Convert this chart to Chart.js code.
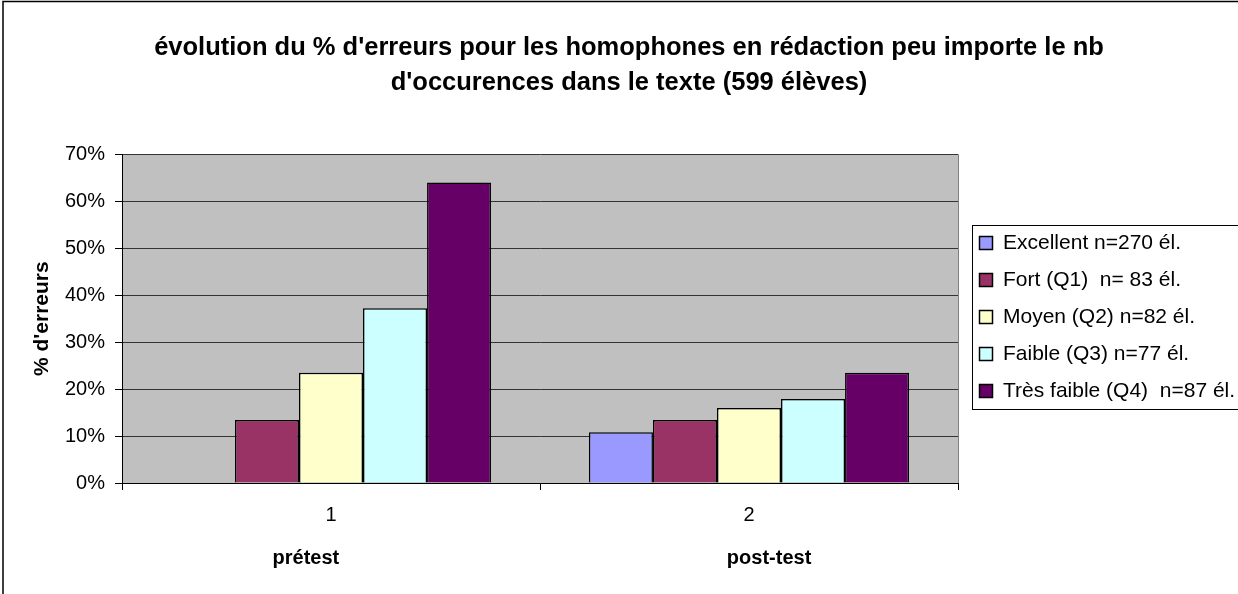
<!DOCTYPE html>
<html>
<head>
<meta charset="utf-8">
<script src="https://cdn.jsdelivr.net/npm/chart.js@4"></script>
<style>
  html, body { margin: 0; padding: 0; background: #fff; }
  #wrap { width: 1238px; height: 594px; position: relative; }
</style>
</head>
<body>
<div id="wrap"><canvas id="c" width="1238" height="594"></canvas></div>
<script>
const titleLines = ["évolution du % d'erreurs pour les homophones en rédaction peu importe le nb", "d'occurences dans le texte (599 élèves)"];
const categories = ['1', '2'];
const groupLabels = ['prétest', 'post-test'];
const yTitle = "% d'erreurs";
const seriesNames = ['Excellent n=270 él.', 'Fort (Q1)  n= 83 él.', 'Moyen (Q2) n=82 él.', 'Faible (Q3) n=77 él.', 'Très faible (Q4)  n=87 él.'];
const excellent = [null, 0.108];
const fort = [0.134, 0.134];
const moyen = [0.235, 0.160];
const faible = [0.372, 0.179];
const tresFaible = [0.640, 0.235];
const seriesColors = ['#9999FF', '#993366', '#FFFFCC', '#CCFFFF', '#660066'];
const seriesValues = [excellent, fort, moyen, faible, tresFaible];

const FONT = "'Liberation Sans', Arial, sans-serif";

const decor = {
  id: 'decor',
  beforeDraw(chart) {
    const {ctx, chartArea: a} = chart;
    ctx.save();
    ctx.fillStyle = '#C0C0C0';
    ctx.fillRect(a.left, a.top, a.right - a.left, a.bottom - a.top);
    ctx.restore();
  },
  afterLayout(chart) {
    const lg = chart.legend;
    const dx = 5.5;
    lg.left += dx; lg.right += dx;
    lg.top = 216.5; lg.bottom = 594;
  },
  afterDraw(chart) {
    const {ctx, chartArea: a} = chart;
    ctx.save();
    ctx.strokeStyle = '#808080';
    ctx.lineWidth = 1;
    ctx.beginPath();
    ctx.moveTo(a.right + 0.5, a.top);
    ctx.lineTo(a.right + 0.5, a.bottom);
    ctx.stroke();
    ctx.strokeStyle = '#000';
    ctx.lineWidth = 1.5;
    ctx.beginPath();
    ctx.moveTo(3, 594);
    ctx.lineTo(3, 1.5);
    ctx.lineTo(1238, 1.5);
    ctx.stroke();
    const lg = chart.legend;
    const pad = lg.options.labels.padding;
    const fs = lg.options.labels.font.size;
    const n = chart.data.datasets.length;
    const firstCenter = lg.top + pad + fs / 2;
    const lastCenter = firstCenter + (n - 1) * (fs + pad);
    const left = lg.left + pad - 8;
    ctx.lineWidth = 1;
    ctx.strokeStyle = '#000';
    ctx.strokeRect(Math.round(left) + 0.5, Math.round(firstCenter - 18) + 0.5, 1260 - left, Math.round(lastCenter - firstCenter + 36));
    ctx.restore();
  }
};

new Chart(document.getElementById('c'), {
  type: 'bar',
  data: {
    labels: categories,
    datasets: seriesValues.map((vals, i) => ({
      label: seriesNames[i],
      data: vals,
      backgroundColor: seriesColors[i],
      borderColor: '#000',
      borderWidth: 1.5,
      categoryPercentage: 0.766,
      barPercentage: 1.0
    }))
  },
  options: {
    responsive: false,
    animation: false,
    devicePixelRatio: 1,
    layout: { padding: { left: 20, right: 0, top: 0, bottom: 0 } },
    plugins: {
      title: {
        display: true,
        text: titleLines,
        color: '#000',
        font: { family: FONT, size: 25.5, weight: 'bold', lineHeight: 1.38 },
        padding: { top: 30, bottom: 54 }
      },
      legend: {
        display: true,
        position: 'right',
        align: 'start',
        maxWidth: 280,
        labels: {
          color: '#000',
          font: { family: FONT, size: 21 },
          boxWidth: 13,
          boxHeight: 13,
          padding: 16
        }
      },
      tooltip: { enabled: false }
    },
    scales: {
      x: {
        type: 'category',
        offset: true,
        grid: { display: true, offset: true, drawOnChartArea: false, drawTicks: true, tickLength: 7, color: '#000', tickColor: '#000' },
        border: { display: true, color: '#000', width: 1 },
        ticks: { color: '#000', font: { family: FONT, size: 20 }, padding: 13, maxRotation: 0 },
        afterFit(s) { s.height = 44; }
      },
      x2: {
        type: 'linear',
        position: 'bottom',
        weight: 1,
        offset: false,
        min: 0,
        max: 2,
        grid: { display: false, drawTicks: false, offset: false },
        border: { display: false },
        afterBuildTicks(axis) { axis.ticks = [{ value: 0.44 }, { value: 1.548 }]; },
        ticks: {
          autoSkip: false,
          color: '#000',
          font: { family: FONT, size: 20, weight: 'bold' },
          padding: 19,
          maxRotation: 0,
          callback: (v, i) => groupLabels[i]
        },
        afterFit(s) { s.height = 67; }
      },
      y: {
        min: 0,
        max: 0.7,
        ticks: {
          stepSize: 0.1,
          color: '#000',
          font: { family: FONT, size: 20 },
          padding: 10,
          callback: (v) => Math.round(v * 100) + '%'
        },
        grid: { color: '#333333', lineWidth: 1, tickLength: 7, tickColor: '#000' },
        border: { display: true, color: '#000', width: 1 },
        title: {
          display: true,
          text: yTitle,
          color: '#000',
          font: { family: FONT, size: 21, weight: 'bold' },
          padding: { top: 10, bottom: 4 }
        },
        afterFit(s) { s.width = 102; }
      }
    }
  },
  plugins: [decor]
});
</script>
</body>
</html>
